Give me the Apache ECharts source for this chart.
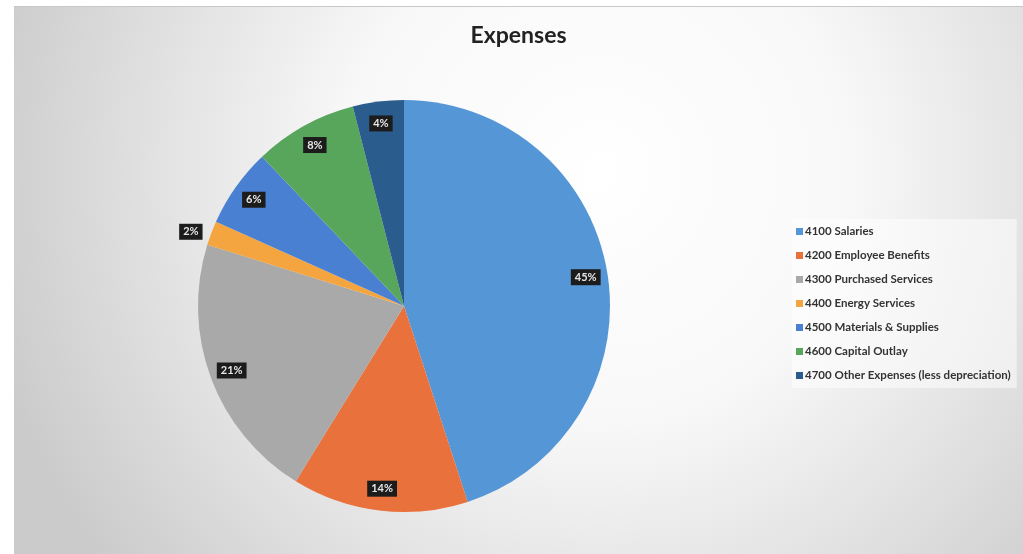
<!DOCTYPE html>
<html>
<head>
<meta charset="utf-8">
<title>Expenses</title>
<script src="https://cdn.jsdelivr.net/npm/echarts@6/dist/echarts.min.js"></script>
<style>
    html, body { margin: 0; padding: 0; background: #fff; }
    #chart {
        position: absolute; left: 14px; top: 6px;
        width: 1009px; height: 548px;
        border-top: 1px solid #c8c8c8;
    }
</style>
</head>
<body>
<div id="chart"></div>
<script>
//分类
var categories = [
    '4100 Salaries',
    '4200 Employee Benefits',
    '4300 Purchased Services',
    '4400 Energy Services',
    '4500 Materials & Supplies',
    '4600 Capital Outlay',
    '4700 Other Expenses (less depreciation)'
];
//占比
var shares = [45.0, 13.8, 21.0, 1.9, 6.2, 8.1, 4.0];
//颜色
var colors = ['#5596d6', '#e9713c', '#a9a9a9', '#f4a540', '#4a80d2', '#58a65b', '#2b5c8e'];

var pieData = [];
var labelData = [];
var total = 0;
for (var i = 0; i < shares.length; i++) total += shares[i];
for (var i = 0; i < categories.length; i++) {
    pieData.push({ name: categories[i], value: shares[i], itemStyle: { color: colors[i] } });
    var d = { name: categories[i], value: shares[i] };
    // 小扇区的标签放在外面
    if (shares[i] / total < 0.03) {
        d.label = { position: 'outside' };
        d.labelLine = { show: false, length: 4, length2: 0 };
    }
    labelData.push(d);
}

var myChart = echarts.init(document.getElementById('chart'));

var option = {
    backgroundColor: new echarts.graphic.RadialGradient(0.58, 0.3, 1.15, [
        { offset: 0, color: '#ffffff' },
        { offset: 0.4, color: '#f8f8f8' },
        { offset: 0.7, color: '#e2e2e2' },
        { offset: 1, color: '#cbcbcb' }
    ]),
    animation: false,
    title: {
        text: 'Expenses',
        left: 'center',
        top: 12,
        textStyle: { fontFamily: 'Lato', fontSize: 23, fontWeight: 'bold', color: '#222' }
    },
    legend: {
        orient: 'vertical',
        left: 778,
        top: 212,
        padding: [6, 6, 6, 4],
        backgroundColor: 'rgba(255,255,255,0.5)',
        itemWidth: 7,
        itemHeight: 7,
        itemGap: 11,
        icon: 'rect',
        data: categories,
        textStyle: { fontFamily: 'Lato', fontSize: 11.5, fontWeight: 'bold', color: '#333', lineHeight: 13, padding: [0, 0, 0, -3] }
    },
    series: [
        {
            name: 'Expenses',
            type: 'pie',
            center: [390, 299],
            radius: 206,
            startAngle: 90,
            clockwise: true,
            silent: true,
            label: { show: false },
            labelLine: { show: false },
            data: pieData
        },
        {
            // 标签层（透明环）
            name: 'labels',
            type: 'pie',
            center: [390, 299],
            radius: [156, 206],
            startAngle: 90,
            clockwise: true,
            silent: true,
            itemStyle: { color: 'rgba(0,0,0,0)' },
            label: {
                show: true,
                position: 'inside',
                formatter: function (p) { return Math.round(p.percent) + '%'; },
                fontFamily: 'Lato',
                fontSize: 11,
                fontWeight: 'bold',
                color: '#e6e6e6',
                backgroundColor: '#1c1c1c',
                padding: [3, 4, 2, 4]
            },
            labelLine: { show: false },
            data: labelData
        }
    ]
};

myChart.setOption(option);
</script>
</body>
</html>
